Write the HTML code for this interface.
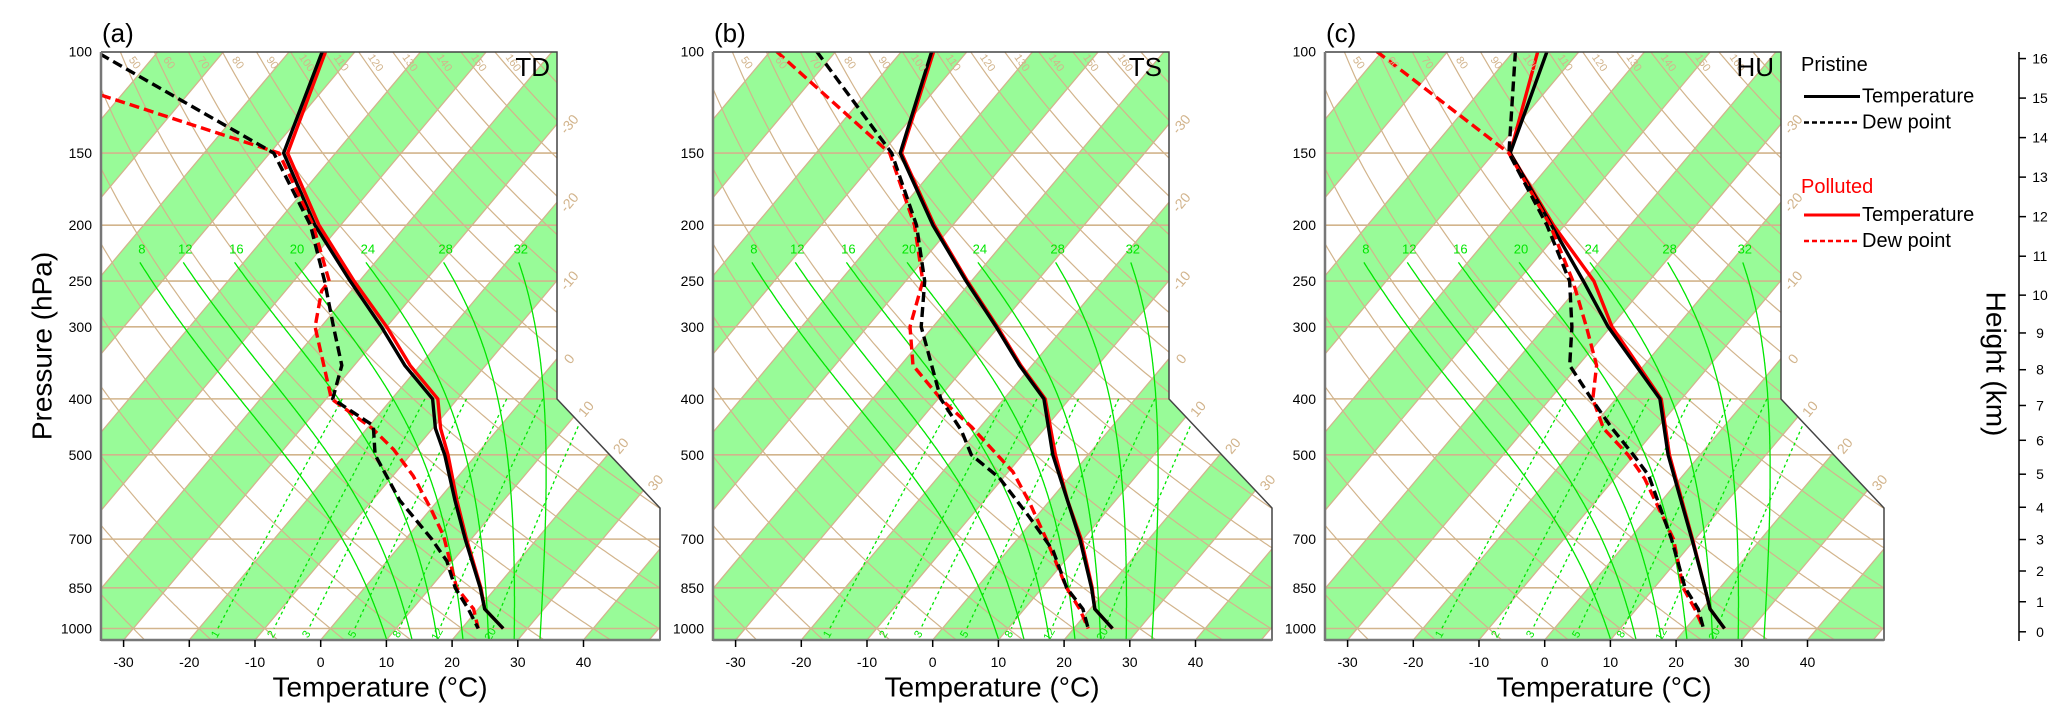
<!DOCTYPE html>
<html><head><meta charset="utf-8"><style>
html,body{margin:0;padding:0;background:#fff;}
svg{display:block;font-family:"Liberation Sans",Arial,sans-serif;}
</style></head><body>
<svg id="fig" width="2067" height="724" viewBox="0 0 2067 724" xmlns="http://www.w3.org/2000/svg">
<rect x="0" y="0" width="2067" height="724" fill="#fff"/>
<g id="panels"></g>
<text x="0" y="0" transform="translate(42,346) rotate(-90)" font-size="28" text-anchor="middle" dominant-baseline="central">Pressure (hPa)</text>
<g font-size="20">
 <text x="1801" y="65" dominant-baseline="central">Pristine</text>
 <line x1="1804" y1="96.5" x2="1860" y2="96.5" stroke="#000" stroke-width="3"/>
 <text x="1862" y="96.5" dominant-baseline="central">Temperature</text>
 <line x1="1804" y1="122.5" x2="1860" y2="122.5" stroke="#000" stroke-width="2.5" stroke-dasharray="5,3"/>
 <text x="1862" y="122.5" dominant-baseline="central">Dew point</text>
 <text x="1801" y="187" fill="#ff0000" dominant-baseline="central">Polluted</text>
 <line x1="1804" y1="215" x2="1860" y2="215" stroke="#ff0000" stroke-width="3"/>
 <text x="1862" y="215" dominant-baseline="central">Temperature</text>
 <line x1="1804" y1="241" x2="1860" y2="241" stroke="#ff0000" stroke-width="2.5" stroke-dasharray="5,3"/>
 <text x="1862" y="241" dominant-baseline="central">Dew point</text>
</g>
<g id="haxis"></g>
<text x="0" y="0" transform="translate(1996,364) rotate(90)" font-size="28" text-anchor="middle" dominant-baseline="central">Height (km)</text>
</svg>
<script>
// ---- data ----
const panelNames = ["(a)", "(b)", "(c)"];
const panelTags = ["TD", "TS", "HU"];
const pressureTicks = [100, 150, 200, 250, 300, 400, 500, 700, 850, 1000];
const tempTicks = [-30, -20, -10, 0, 10, 20, 30, 40];
const heightTicks = [0,1,2,3,4,5,6,7,8,9,10,11,12,13,14,15,16];
const dryThetas = [-30,-20,-10,0,10,20,30,40,50,60,70,80,90,100,110,120,130,140,150,160,170];
const moistThetas = [8,12,16,20,24,28,32];
const mixRatios = [1,2,3,5,8,12,20];

// panel (a) TD
const aTpP = [100,150,200,250,300,350,400,450,500,600,700,850,925,1000];
const aTpT = [-75.0,-67.9,-53.9,-41.4,-30.8,-22.3,-13.8,-9.6,-4.8,2.6,9.1,17.6,21.0,26.3];
const aTcP = [100,150,200,250,300,350,400,450,500,600,700,850,925,1000];
const aTcT = [-74.5,-67.3,-53.3,-40.8,-30.0,-21.5,-13.0,-8.8,-4.3,2.9,9.3,17.7,21.0,26.3];
const aDpP = [101,150,200,250,300,350,400,445,500,600,650,700,764,850,925,1000];
const aDpT = [-108.5,-69.4,-54.6,-45.3,-38.1,-31.9,-29.0,-19.4,-15.4,-5.8,-0.7,4.0,9.1,13.8,18.5,22.5];
const aDcP = [119,150,200,250,260,300,400,450,490,544,618,691,850,925,1000];
const aDcT = [-103.1,-68.6,-54.2,-44.6,-44.5,-40.9,-29.2,-19.2,-13.2,-6.9,-0.2,5.4,14.0,19.3,22.5];
// panel (b) TS
const bTpP = [100,150,200,250,300,350,400,500,700,850,925,1000];
const bTpT = [-75.4,-67.2,-53.0,-40.8,-30.4,-21.9,-13.9,-5.4,9.5,17.5,20.7,25.9];
const bTcP = [100,150,200,250,300,350,400,500,600,700,850,925,1000];
const bTcT = [-75.1,-67.0,-52.8,-40.6,-30.2,-21.7,-13.7,-5.0,2.7,9.7,17.6,20.7,25.9];
const bDpP = [100,150,200,250,300,400,454,500,548,641,733,850,925,1000];
const bDpT = [-92.9,-68.5,-55.5,-47.1,-41.8,-29.6,-22.4,-17.8,-10.6,-1.0,6.9,13.7,18.9,22.2];
const bDcP = [100,150,200,250,300,350,400,447,535,604,700,850,925,1000];
const bDcT = [-99.0,-68.8,-55.8,-47.4,-43.5,-38.1,-29.6,-21.4,-9.3,-2.9,4.4,13.7,18.4,22.2];
// panel (c) HU
const cTpP = [100,150,200,250,300,400,500,700,850,925,1000];
const cTpT = [-74.9,-67.5,-52.0,-40.0,-30.4,-13.3,-4.9,9.5,17.7,21.2,25.9];
const cTcP = [100,150,200,250,300,400,500,700,850,925,1000];
const cTcT = [-76.3,-67.5,-51.7,-38.4,-29.8,-13.1,-4.7,9.6,17.7,21.2,25.9];
const cDpP = [100,150,200,250,300,350,400,450,500,543,700,850,925,1000];
const cDpT = [-79.7,-67.7,-52.7,-42.1,-35.9,-31.3,-23.7,-16.8,-10.2,-5.2,6.4,14.7,19.4,22.7];
const cDcP = [100,150,200,250,300,350,400,450,500,550,700,850,925,1000];
const cDcT = [-100.8,-67.7,-52.2,-41.6,-33.7,-27.2,-23.5,-18.1,-11.0,-5.4,6.7,14.4,18.9,22.7];

const profiles = [
 [[aTpP,aTpT],[aTcP,aTcT],[aDpP,aDpT],[aDcP,aDcT]],
 [[bTpP,bTpT],[bTcP,bTcT],[bDpP,bDpT],[bDcP,bDcT]],
 [[cTpP,cTpT],[cTcP,cTcT],[cDpP,cDpT],[cDcP,cDcT]]
];

// ---- geometry ----
const NS = "http://www.w3.org/2000/svg";
const PANEL_DX = 612, X0 = 320.7, DXT = 6.57, SKEW = 0.84, YBOT = 640, YTOP = 52, XL = 101, XRT = 557, XRB = 660, YCUT = 399, YDIAG = 508;
const TAN = "#d2b48c", GREEN = "#98fb98", LIME = "#00e600";
function yP(p){ return 628.5 - 250.6*Math.log(1000/p); }
function xT(ox,T,p){ return ox + X0 + DXT*T + SKEW*(YBOT - yP(p)); }
function mk(tag, attrs, parent){ const e=document.createElementNS(NS,tag); for(const k in attrs) e.setAttribute(k,attrs[k]); parent.appendChild(e); return e; }
function dryT(th,p){ return (th+273.15)*Math.pow(p/1000,0.2857)-273.15; }
function pathFrom(pts){ return pts.map((q,i)=>(i?"L":"M")+q[0].toFixed(1)+","+q[1].toFixed(1)).join(""); }
function moistCurve(thw, pTop){
  const Rd=287, cp=1004, Lv=2.5e6, pts=[];
  function rate(T,p){ const es=6.112*Math.exp(17.67*(T-273.15)/(T-29.65)); const rs=0.622*es/(p-es);
    return (Rd*T+Lv*rs)/(p*(cp+Lv*Lv*rs*0.622/(Rd*T*T))); }
  let T=thw+273.15, p=1000; const up=[];
  while(p>pTop){ up.push([p,T-273.15]); const dp=-2; T+=rate(T,p)*dp; p+=dp; }
  up.push([p,T-273.15]);
  T=thw+273.15; p=1000; const down=[];
  while(p<1060){ const dp=2; T+=rate(T,p)*dp; p+=dp; down.push([p,T-273.15]); }
  return down.reverse().concat(up);
}
function tdMix(w,p){ const e=w*p/(622+w); const l=Math.log(e/6.112); return 243.5*l/(17.67-l); }

const panelsG = document.getElementById("panels");
for(let k=0;k<3;k++){
  const ox = k*PANEL_DX;
  const g = mk("g",{},panelsG);
  
  
  const clipId="clip"+k;
  const defs=mk("defs",{},g); const cp=mk("clipPath",{id:clipId},defs);
  const poly=[[XL,YTOP],[XRT,YTOP],[XRT,YCUT],[XRB,YDIAG],[XRB,YBOT],[XL,YBOT]].map(q=>[q[0]+ox,q[1]]);
  mk("polygon",{points:poly.map(q=>q.join(",")).join(" ")},cp);
  const bg = mk("g",{"clip-path":"url(#"+clipId+")"},g);
  mk("rect",{x:ox+XL,y:YTOP,width:XRB-XL,height:YBOT-YTOP,fill:"#fff"},bg);
  // green isotherm bands
  for(let T=-160;T<=60;T+=20){
    const pa=1200, pb=60;
    const pts=[[xT(ox,T,pa),yP(pa)],[xT(ox,T+10,pa),yP(pa)],[xT(ox,T+10,pb),yP(pb)],[xT(ox,T,pb),yP(pb)]];
    const b=mk("polygon",{points:pts.map(q=>q.join(",")).join(" "),fill:GREEN},bg);
    
    
  }
  // isotherms
  for(let T=-160;T<=70;T+=10){
    const l=mk("line",{x1:xT(ox,T,1200),y1:yP(1200),x2:xT(ox,T,60),y2:yP(60),stroke:TAN,"stroke-width":1.3},bg);
    
    
  }
  // isobars
  pressureTicks.forEach(p=>{
    const l=mk("line",{x1:ox+XL,y1:yP(p),x2:ox+XRB,y2:yP(p),stroke:TAN,"stroke-width":1.6},bg);
    
    
  });
  // dry adiabats
  dryThetas.forEach(th=>{
    const pts=[]; for(let p=95;p<=1060;p+=5) pts.push([xT(ox,dryT(th,p),p),yP(p)]);
    const l=mk("path",{d:pathFrom(pts),fill:"none",stroke:TAN,"stroke-width":1.2},bg);
    
    
  });
  // faint parcel-like line
  // moist adiabats
  moistThetas.forEach(th=>{
    const pts=moistCurve(th,232).map(q=>[xT(ox,q[1],q[0]),yP(q[0])]);
    const l=mk("path",{d:pathFrom(pts),fill:"none",stroke:LIME,"stroke-width":1.3},bg);
    
    
    const top=pts[pts.length-1];
    const t=mk("text",{x:top[0]+2,y:top[1]-9,fill:LIME,"font-size":13,"text-anchor":"middle"},bg);
    t.textContent=th;
    
    
  });
  // mixing ratio lines
  mixRatios.forEach(w=>{
    const pts=[]; for(let p=400;p<=1000;p+=10) pts.push([xT(ox,tdMix(w,p),p),yP(p)]);
    const l=mk("path",{d:pathFrom(pts),fill:"none",stroke:LIME,"stroke-width":1.3,"stroke-dasharray":"3,3"},bg);
    
    
    const bx=xT(ox,tdMix(w,1000),1000), by=yP(1000);
    const t=mk("text",{x:0,y:0,fill:LIME,"font-size":11,transform:"translate("+(bx-2)+","+(by+6)+") rotate(-60)","text-anchor":"middle",
      "dominant-baseline":"central"},bg);
    t.textContent=w;
    
    
  });
  // dry adiabat labels (top and left)
  dryThetas.forEach(th=>{
    let lab=null;
    const xtop=xT(ox,dryT(th,104),104);
    if(th>=50 && xtop<ox+XRT-20){ lab=[xtop+10,63]; }
    else if(th<50){
      let lo=95, hi=1060;
      for(let i=0;i<40;i++){ const m=(lo+hi)/2; if(xT(ox,dryT(th,m),m)>ox+XL+6) lo=m; else hi=m; }
      const y=yP(lo); if(y>YTOP+20 && y<YBOT-10) lab=[ox+XL+10,y-4];
    }
    if(lab){
      const t=mk("text",{x:0,y:0,fill:TAN,"font-size":11,transform:"translate("+lab[0]+","+lab[1]+") rotate(55)","text-anchor":"middle","dominant-baseline":"central"},g);
      t.textContent=th;
      
      
    }
  });
  // isotherm labels on the right side
  for(let T=-30;T<=30;T+=10){
    let lx, ly;
    const yAtR = YBOT-(XRT-X0-DXT*T)/SKEW;
    if(yAtR<=YCUT){ lx=ox+XRT+12; ly=yAtR; }
    else {
      const m=(YDIAG-YCUT)/(XRB-XRT);
      // isotherm: x = X0+DXT*T+SKEW*(YBOT-y); diagonal: y = YCUT + m*(x-XRT)
      const x=(X0+DXT*T+SKEW*YBOT - SKEW*YCUT + SKEW*m*XRT)/(1+SKEW*m);
      lx=ox+x+12; ly=YCUT+m*(x-XRT)-8;
      if(x>XRB) continue;
    }
    const t=mk("text",{x:0,y:0,fill:TAN,"font-size":14,transform:"translate("+lx+","+ly+") rotate(-50)","text-anchor":"middle","dominant-baseline":"central"},g);
    t.textContent=(T<0?"-":"")+Math.abs(T);
    
    
  }
  // profiles
  const styles=[["#000",""],["#ff0000",""],["#000","10,5"],["#ff0000","10,5"]];
  const names=["pristine-temperature","polluted-temperature","pristine-dewpoint","polluted-dewpoint"];
  const order=[1,0,3,2];
  order.forEach(i=>{
    const P=profiles[k][i][0], T=profiles[k][i][1];
    const pts=P.map((p,j)=>[xT(ox,T[j],p),yP(p)]);
    const l=mk("path",{d:pathFrom(pts),fill:"none",stroke:styles[i][0],"stroke-width":3.4,"stroke-linejoin":"round"},bg);
    if(styles[i][1]) l.setAttribute("stroke-dasharray",styles[i][1]);
    
    
  });
  // frame
  const fr=mk("polyline",{points:poly.map(q=>q.join(",")).join(" ")+" "+poly[0].join(","),fill:"none",stroke:"#444","stroke-width":1.5},g);
  
  
  mk("line",{x1:ox+XL,y1:YTOP,x2:ox+XL,y2:YBOT+1,stroke:"#777","stroke-width":2.5},g);
  mk("line",{x1:ox+XL,y1:YBOT,x2:ox+XRB,y2:YBOT,stroke:"#777","stroke-width":2.5},g);
  // pressure labels
  pressureTicks.forEach(p=>{
    const t=mk("text",{x:ox+92,y:yP(p),"font-size":14,"text-anchor":"end","dominant-baseline":"central"},g);
    t.textContent=p;
    
    
  });
  // temperature ticks
  tempTicks.forEach(T=>{
    const x=ox+X0+DXT*T;
    mk("line",{x1:x,y1:YBOT,x2:x,y2:YBOT+7,stroke:"#000","stroke-width":1.5},g);
    const t=mk("text",{x:x,y:662,"font-size":14,"text-anchor":"middle","dominant-baseline":"central"},g);
    t.textContent=T;
    
    
  });
  const xt=mk("text",{x:ox+380,y:687,"font-size":28,"text-anchor":"middle","dominant-baseline":"central"},g);
  xt.textContent="Temperature (\u00B0C)";
  
  
  const pl=mk("text",{x:ox+102,y:33,"font-size":26,"dominant-baseline":"central"},g);
  pl.textContent=panelNames[k];
  
  
  const tg=mk("text",{x:ox+XRT-7,y:67,"font-size":26,"text-anchor":"end","dominant-baseline":"central"},g);
  tg.textContent=panelTags[k];
  
  
}
// height axis (ISA mapping)
const ha=document.getElementById("haxis");
function pISA(z){ return z<=11 ? 1013.25*Math.pow(1-0.0065*z*1000/288.15,5.255) : 226.32*Math.exp(-(z-11)*1000*9.80665/(287.05*216.65)); }
mk("line",{x1:2019,y1:52,x2:2019,y2:641,stroke:"#000","stroke-width":1.5},ha);
heightTicks.forEach(z=>{
  const y=yP(pISA(z));
  mk("line",{x1:2019,y1:y,x2:2026,y2:y,stroke:"#000","stroke-width":1.5},ha);
  const t=mk("text",{x:2040,y:y,"font-size":14,"text-anchor":"middle","dominant-baseline":"central"},ha);
  t.textContent=z;
  
  
});
</script>
</body></html>
